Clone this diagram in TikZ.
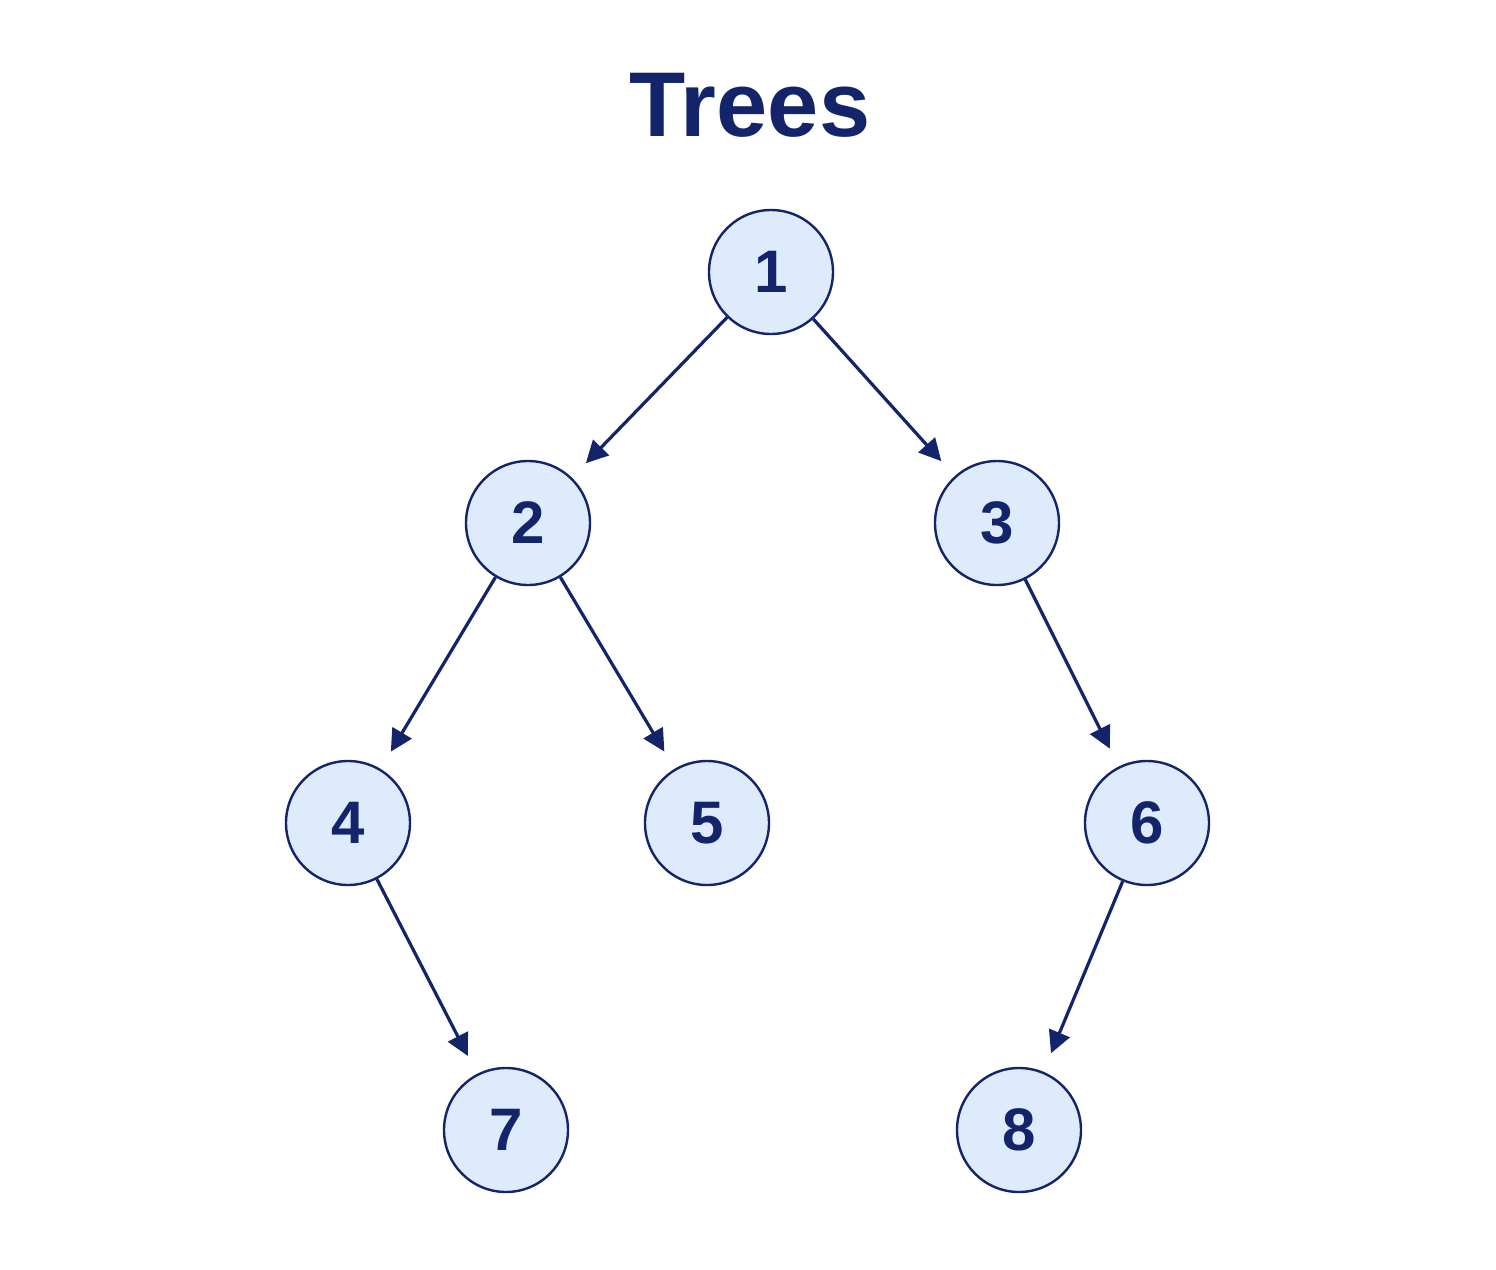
\documentclass[tikz,border=0pt]{standalone}
\usepackage{fontspec}
\setmainfont{Liberation Sans}
\usetikzlibrary{arrows.meta}
\definecolor{navy}{HTML}{13246A}
\definecolor{pale}{HTML}{DDEBFD}
\begin{document}
\begin{tikzpicture}[x=0.5pt,y=-0.5pt,
  tn/.style={circle,draw=navy,fill=pale,line width=1.2pt,minimum size=62pt,inner sep=0pt,text=navy,font=\fontsize{30}{30}\selectfont\bfseries},
  edge/.style={draw=navy,line width=1.6pt,-{Triangle[length=11pt,width=11pt]},shorten >=10pt}]
\useasboundingbox (0,0) rectangle (1496,1270);
\node[text=navy,font=\fontsize{46}{46}\selectfont\bfseries] (t) at (750,105) {Trees};
\node[tn] (n1) at (771,272) {1};
\node[tn] (n2) at (528,523) {2};
\node[tn] (n3) at (997,523) {3};
\node[tn] (n4) at (348,823) {4};
\node[tn] (n5) at (707,823) {5};
\node[tn] (n6) at (1147,823) {6};
\node[tn] (n7) at (506,1130) {7};
\node[tn] (n8) at (1019,1130) {8};
\draw[edge] (n1) -- (n2);
\draw[edge] (n1) -- (n3);
\draw[edge] (n2) -- (n4);
\draw[edge] (n2) -- (n5);
\draw[edge] (n3) -- (n6);
\draw[edge] (n4) -- (n7);
\draw[edge] (n6) -- (n8);
\end{tikzpicture}
\end{document}
